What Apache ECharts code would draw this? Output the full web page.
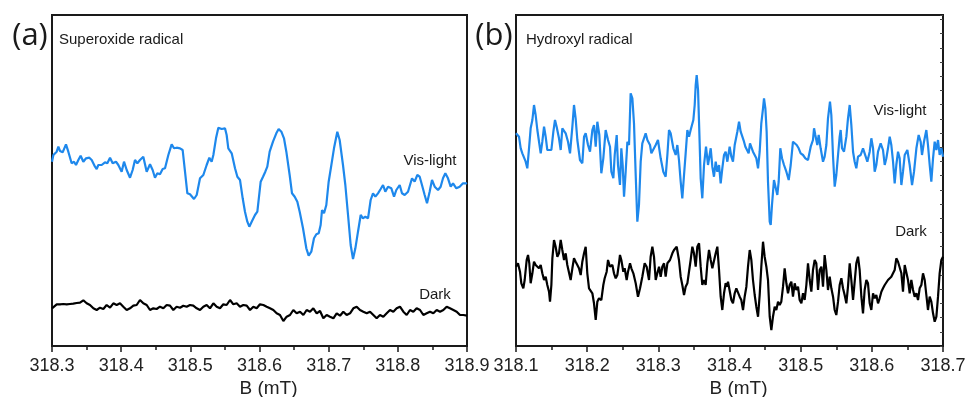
<!DOCTYPE html>
<html><head><meta charset="utf-8">
<script src="https://cdn.jsdelivr.net/npm/echarts@6/dist/echarts.min.js"></script>
<style>html,body{margin:0;padding:0;background:#fff}#c{width:969px;height:397px}</style>
</head><body><div id="c"></div>
<script>
// Tick labels
const aTicks = ['318.3','318.4','318.5','318.6','318.7','318.8','318.9'];
const bTicks = ['318.1','318.2','318.3','318.4','318.5','318.6','318.7'];

// Panel (a) Superoxide radical, Vis-light (B in mT, intensity a.u.)
const aVisX = [318.3000,318.3020,318.3068,318.3092,318.3116,318.3154,318.3202,318.3236,318.3284,318.3318,318.3347,318.3381,318.3414,318.3453,318.3492,318.3540,318.3574,318.3622,318.3646,318.3670,318.3718,318.3766,318.3800,318.3839,318.3877,318.3925,318.3959,318.4007,318.4041,318.4080,318.4128,318.4166,318.4200,318.4234,318.4272,318.4320,318.4369,318.4417,318.4455,318.4489,318.4523,318.4561,318.4600,318.4634,318.4682,318.4730,318.4764,318.4802,318.4851,318.4889,318.4923,318.4957,318.4995,318.5053,318.5092,318.5140,318.5188,318.5236,318.5275,318.5308,318.5333,318.5371,318.5405,318.5453,318.5501,318.5525,318.5549,318.5598,318.5646,318.5680,318.5718,318.5757,318.5790,318.5824,318.5853,318.5887,318.5935,318.5969,318.6017,318.6051,318.6084,318.6113,318.6147,318.6195,318.6243,318.6277,318.6316,318.6354,318.6388,318.6436,318.6470,318.6509,318.6547,318.6581,318.6629,318.6677,318.6711,318.6749,318.6788,318.6822,318.6856,318.6884,318.6904,318.6933,318.6966,318.7000,318.7039,318.7077,318.7125,318.7159,318.7207,318.7241,318.7280,318.7318,318.7352,318.7386,318.7424,318.7463,318.7496,318.7530,318.7569,318.7607,318.7641,318.7675,318.7713,318.7752,318.7786,318.7819,318.7858,318.7906,318.7945,318.7978,318.8027,318.8060,318.8099,318.8147,318.8205,318.8243,318.8282,318.8316,318.8349,318.8388,318.8422,318.8460,318.8494,318.8533,318.8581,318.8619,318.8653,318.8687,318.8725,318.8764,318.8798,318.8846,318.8894,318.8942,318.8990,318.9000];
const aVisY = [184.3,191,194.3,199.3,195,193.7,201.7,194.3,182.7,184.3,181,186,190.3,184.3,187.7,188.3,186,179.3,177,181,181,183.7,182.7,188.3,182.7,184.3,181,174.3,184.3,176,168.3,176,186,182.7,186,189.3,174.3,181.7,176,168.3,172.7,171.7,177,177.7,191,201.7,197.7,198.3,197.7,196,174.3,152.7,151.7,147,151,167.7,171,181,188.3,184.3,191,207.7,218.3,217,217.7,211,197.7,192.7,177.7,169.3,166,147.7,134.3,124.3,119.3,124.3,131,134.3,164.3,169.3,174.3,179.3,194.3,204.3,212.7,217,214.3,207.7,194.3,171,152.7,149.3,144.3,134.3,117.7,97.7,90.3,94.3,107.7,111.7,112.7,121,136,132.7,141,164.3,181,197.7,214.3,206,181,161,131,101,87,97.7,114.3,131,127.7,129.3,127.7,146,152.7,149.3,152.7,157,161,154.3,159.3,157.7,149.3,156,161,152.7,151,154.3,167.7,164.3,171,169.3,161,151,142.7,154.3,166,159.3,156,159.3,167.7,172.7,167.7,159.3,162.7,157.7,159.3,162.7,162.7,163];

// Panel (a) Dark
const aDarkX = [318.3000,318.3019,318.3068,318.3116,318.3164,318.3212,318.3260,318.3308,318.3357,318.3405,318.3453,318.3501,318.3549,318.3598,318.3646,318.3694,318.3742,318.3790,318.3839,318.3887,318.3935,318.3983,318.4031,318.4080,318.4128,318.4176,318.4224,318.4272,318.4320,318.4369,318.4417,318.4465,318.4513,318.4561,318.4610,318.4658,318.4706,318.4754,318.4802,318.4851,318.4899,318.4947,318.4995,318.5043,318.5092,318.5140,318.5188,318.5236,318.5284,318.5333,318.5381,318.5429,318.5477,318.5525,318.5574,318.5622,318.5670,318.5718,318.5766,318.5815,318.5863,318.5911,318.5959,318.6007,318.6056,318.6104,318.6152,318.6200,318.6248,318.6296,318.6345,318.6393,318.6441,318.6489,318.6537,318.6586,318.6634,318.6682,318.6730,318.6778,318.6827,318.6875,318.6923,318.6971,318.7019,318.7068,318.7116,318.7164,318.7212,318.7260,318.7309,318.7357,318.7405,318.7453,318.7501,318.7550,318.7598,318.7646,318.7694,318.7742,318.7790,318.7839,318.7887,318.7935,318.7983,318.8031,318.8080,318.8128,318.8176,318.8224,318.8272,318.8321,318.8369,318.8417,318.8465,318.8513,318.8562,318.8610,318.8658,318.8706,318.8754,318.8803,318.8851,318.8899,318.8947,318.9000];
const aDarkY = [37.7,39.3,41.7,41.7,42,41.7,42,42.3,43,43.3,45.7,42.7,41,37.7,36,38.3,37,41,38.3,42.7,41,42.7,39.3,36,37.7,40.3,41,46,42.7,41,36,37.7,37,39.3,37.7,41,40.3,36,39.3,38.3,40.3,39.3,41,40.3,37.7,36,39.3,41,37.7,42.7,39.3,37.7,41.7,41,46,41.7,42.7,39.3,41,40.3,36,39.3,37.7,41.7,41,39.3,37.7,36,32.7,31,25,29.3,31,36,32.7,34.3,31,36,34.3,37.7,32.7,35,27.7,31,29.3,27.7,32.7,30.3,34.3,31,32.7,37.7,39.3,36,34.3,32.7,34.3,31,27.7,31,29.3,32.7,36,34.3,37.7,39.3,34.3,31,36,34.3,37.7,36,31,32.7,34.3,32.7,36,34.3,36,39.3,37.7,36,34.3,31,31,30.3];

// Panel (b) Hydroxyl radical, Vis-light
const bVisX = [318.1000,318.1042,318.1066,318.1089,318.1112,318.1136,318.1159,318.1183,318.1206,318.1230,318.1253,318.1276,318.1300,318.1323,318.1347,318.1370,318.1394,318.1417,318.1440,318.1464,318.1497,318.1525,318.1548,318.1571,318.1604,318.1628,318.1651,318.1675,318.1698,318.1731,318.1759,318.1792,318.1815,318.1838,318.1862,318.1899,318.1932,318.1956,318.1979,318.2012,318.2040,318.2073,318.2096,318.2120,318.2143,318.2171,318.2199,318.2227,318.2260,318.2293,318.2321,318.2340,318.2368,318.2387,318.2415,318.2433,318.2461,318.2480,318.2499,318.2518,318.2541,318.2565,318.2588,318.2611,318.2635,318.2658,318.2682,318.2705,318.2728,318.2752,318.2775,318.2799,318.2822,318.2846,318.2883,318.2902,318.2930,318.2963,318.2995,318.3033,318.3070,318.3103,318.3127,318.3150,318.3173,318.3211,318.3244,318.3267,318.3290,318.3314,318.3337,318.3361,318.3384,318.3408,318.3431,318.3454,318.3492,318.3511,318.3525,318.3539,318.3558,318.3576,318.3595,318.3618,318.3642,318.3670,318.3698,318.3736,318.3759,318.3782,318.3806,318.3829,318.3853,318.3876,318.3899,318.3923,318.3946,318.3970,318.4002,318.4026,318.4049,318.4073,318.4110,318.4134,318.4157,318.4176,318.4204,318.4223,318.4251,318.4269,318.4288,318.4307,318.4330,318.4354,318.4377,318.4401,318.4424,318.4447,318.4471,318.4485,318.4504,318.4522,318.4541,318.4565,318.4579,318.4597,318.4625,318.4649,318.4672,318.4691,318.4714,318.4738,318.4766,318.4799,318.4832,318.4860,318.4892,318.4916,318.4944,318.4972,318.5000,318.5033,318.5066,318.5103,318.5141,318.5173,318.5188,318.5206,318.5234,318.5253,318.5281,318.5314,318.5337,318.5361,318.5384,318.5412,318.5431,318.5455,318.5478,318.5501,318.5525,318.5548,318.5562,318.5581,318.5609,318.5642,318.5665,318.5689,318.5712,318.5736,318.5759,318.5782,318.5806,318.5843,318.5876,318.5899,318.5937,318.5970,318.5993,318.6017,318.6040,318.6063,318.6087,318.6124,318.6157,318.6181,318.6204,318.6227,318.6251,318.6274,318.6298,318.6321,318.6344,318.6368,318.6391,318.6415,318.6438,318.6462,318.6499,318.6532,318.6565,318.6593,318.6626,318.6658,318.6686,318.6705,318.6733,318.6766,318.6789,318.6813,318.6836,318.6860,318.6883,318.6907,318.6930,318.6953,318.6977,318.7000];
const bVisY = [212.7,209.3,197.7,192.7,194.3,184.3,177.7,197.7,217.7,226,241,231,216,214.3,192.7,204.3,219.3,209.3,196,197.7,196,214.3,226,219.3,207.7,196,217.7,216,212.7,204.3,192.7,219.3,241,227.7,206,186,182.7,209.3,212.7,201,194.3,216,221,199.3,224.3,211,172.7,187.7,216,206,199.3,174.3,167.7,191,211,181,161,197.7,181,149.3,174.3,204.3,201,252.7,247.7,222.7,171,124.3,141,184.3,202.7,201,212.7,206,201,192.7,194.3,201,206,187.7,174.3,169.3,191,216,212.7,197.7,191,201,186,164.3,147.7,171,192.7,216,209.3,216,226,241,261,271,256,214.3,167.7,147.7,181,199.3,181,197.7,179.3,169.3,184.3,174.3,181,162.7,177.7,191,194.3,184.3,199.3,189.3,184.3,201,214.3,224.3,214.3,216,204.3,199.3,201,192.7,202.7,204.3,194.3,196,187.7,177.7,194.3,222.7,237.7,247.7,237.7,214.3,164.3,124.3,121,141,166,167.7,151,164.3,197.7,187.7,181,174.3,166,181,204.3,206,201,197.7,192.7,191,187.7,186,199.3,206,217.7,211,201,211,197.7,184.3,189.3,201,227.7,244.3,231,189.3,159.3,171,191,209.3,216,197.7,194.3,209.3,227.7,241,221,194.3,184.3,177.7,189.3,191,197.7,199.3,184.3,194.3,207.7,197.7,174.3,181,194.3,202.7,196,181,187.7,197.7,209.3,201,184.3,162.7,181,194.3,187.7,161,174.3,191,196,181,161,174.3,197.7,211,204.3,191,204.3,216,201,181,164.3,187.7,204.3,196,206,191,197.7,189.3];

// Panel (b) Dark
const bDarkX = [318.1000,318.1028,318.1056,318.1075,318.1103,318.1122,318.1150,318.1169,318.1187,318.1206,318.1230,318.1253,318.1276,318.1300,318.1323,318.1347,318.1370,318.1394,318.1417,318.1440,318.1464,318.1478,318.1497,318.1511,318.1534,318.1557,318.1581,318.1604,318.1628,318.1651,318.1675,318.1698,318.1721,318.1745,318.1768,318.1792,318.1815,318.1838,318.1862,318.1885,318.1909,318.1932,318.1956,318.1979,318.2002,318.2026,318.2049,318.2073,318.2096,318.2120,318.2143,318.2166,318.2199,318.2227,318.2246,318.2274,318.2293,318.2321,318.2354,318.2377,318.2401,318.2424,318.2447,318.2461,318.2480,318.2508,318.2527,318.2555,318.2574,318.2602,318.2621,318.2649,318.2682,318.2714,318.2743,318.2775,318.2808,318.2836,318.2869,318.2892,318.2916,318.2939,318.2963,318.2986,318.3010,318.3033,318.3056,318.3080,318.3103,318.3127,318.3164,318.3197,318.3220,318.3258,318.3290,318.3314,318.3337,318.3361,318.3384,318.3408,318.3431,318.3454,318.3478,318.3501,318.3525,318.3548,318.3572,318.3595,318.3618,318.3642,318.3665,318.3689,318.3712,318.3736,318.3759,318.3782,318.3806,318.3829,318.3853,318.3876,318.3899,318.3923,318.3946,318.3970,318.3979,318.4002,318.4026,318.4049,318.4073,318.4096,318.4120,318.4143,318.4166,318.4190,318.4213,318.4237,318.4260,318.4284,318.4307,318.4330,318.4354,318.4377,318.4401,318.4424,318.4447,318.4471,318.4494,318.4518,318.4541,318.4565,318.4588,318.4611,318.4635,318.4658,318.4682,318.4705,318.4728,318.4752,318.4775,318.4799,318.4822,318.4846,318.4869,318.4892,318.4916,318.4939,318.4963,318.4986,318.5010,318.5033,318.5056,318.5080,318.5103,318.5127,318.5150,318.5173,318.5197,318.5220,318.5244,318.5267,318.5291,318.5314,318.5337,318.5361,318.5384,318.5408,318.5431,318.5455,318.5478,318.5501,318.5525,318.5548,318.5572,318.5595,318.5618,318.5642,318.5665,318.5689,318.5712,318.5736,318.5759,318.5782,318.5806,318.5829,318.5853,318.5876,318.5899,318.5923,318.5946,318.5970,318.5993,318.6017,318.6040,318.6063,318.6087,318.6110,318.6134,318.6157,318.6181,318.6204,318.6227,318.6251,318.6274,318.6298,318.6321,318.6344,318.6368,318.6391,318.6415,318.6438,318.6462,318.6485,318.6508,318.6532,318.6555,318.6579,318.6602,318.6626,318.6649,318.6672,318.6696,318.6719,318.6743,318.6766,318.6789,318.6813,318.6836,318.6860,318.6883,318.6907,318.6930,318.6953,318.6977,318.7000];
const bDarkY = [79.3,82.7,74.3,62.7,57.7,66,86,91,82.7,62.7,72.7,84.3,81,82.7,77.7,81,72.7,66,69.3,61,54.3,44.3,61,87.7,106,99.3,89.3,92.7,106,96,86,92.7,81,82.7,66,77.7,87.7,84.3,81,77.7,71,84.3,92.7,99.3,72.7,57.7,59.3,52.7,42.7,26,44.3,47.7,46,61,67.7,74.3,86,79.3,81,72.7,67.7,71,82.7,91,86,74.3,77.7,66,74.3,82.7,77.7,72.7,62.7,49.3,57.7,69.3,82.7,79.3,66,89.3,99.3,89.3,66,72.7,79.3,69.3,79.3,82.7,69.3,82.7,86,92.7,96,99.3,86,69.3,61,51,59.3,62.7,62.7,86,99.3,92.7,79.3,99.3,102.7,79.3,61,66,61,82.7,96,86,77.7,76,92.7,99.3,76,49.3,36,52.7,62.7,59.3,64.3,62.7,46,42.7,52.7,57.7,56,49.3,46,36,49.3,59.3,79.3,96,86,66,51,39.3,29.3,51,79.3,104.3,89.3,79.3,66,29.3,16,29.3,39.3,36,44.3,41,44.3,59.3,77.7,62.7,52.7,61,64.3,49.3,62.7,56,59.3,46,42.7,52.7,46,61,82.7,66,54.3,76,86,82.7,56,76,79.3,59.3,91,76,56,69.3,57.7,49.3,36,31,44.3,61,67.7,57.7,51,42.7,59.3,82.7,66,46,64.3,82.7,89.3,76,49.3,32.7,56,66,62.7,42.7,36,52.7,47.7,51,42.7,47.7,54.3,57.7,61,62.7,66,67.7,69.3,72.7,76,87.7,84.3,86,72.7,54.3,81,79.3,66,52.7,66,56,49.3,52.7,46,57.7,61,72.7,66,51,36,49.3,44.3,32.7,24.3,29.3,49.3,72.7,86,89.3];

function pairs(xs, ys) { return xs.map((x, i) => [x, ys[i]]); }

const FONT = '"Liberation Sans", Arial, sans-serif';
const INK = '#1a1a1a';
const BLUE = '#1e88ec';

function makeX(gridIndex, labels) {
  const min = parseFloat(labels[0]);
  const max = parseFloat(labels[labels.length - 1]);
  return {
    type: 'value', gridIndex, min, max, interval: 0.1,
    axisLine: { show: true, lineStyle: { color: INK, width: 2 } },
    axisTick: { show: true, length: 6, lineStyle: { color: INK, width: 1.5 } },
    minorTick: { show: true, splitNumber: 2, length: 4, lineStyle: { color: INK, width: 1.5 } },
    splitLine: { show: false },
    axisLabel: {
      show: true, margin: 11, fontSize: 18, color: '#222', fontFamily: FONT,
      showMinLabel: true, showMaxLabel: true, hideOverlap: false,
      formatter: v => { const s = v.toFixed(1); return labels.includes(s) ? s : ''; }
    },
    name: 'B (mT)', nameLocation: 'middle', nameGap: 33, nameMoveOverlap: false,
    nameTextStyle: { fontSize: 19, color: '#222', fontFamily: FONT, padding: [0, 0, 0, 18] }
  };
}

const chart = echarts.init(document.getElementById('c'));
chart.setOption({
  animation: false,
  backgroundColor: '#fff',
  grid: [
    { left: 52, top: 15, width: 415, height: 331, show: true, borderColor: INK, borderWidth: 2, backgroundColor: 'transparent', containLabel: false, outerBoundsMode: 'none' },
    { left: 516, top: 15, width: 427, height: 331, show: true, borderColor: INK, borderWidth: 2, backgroundColor: 'transparent', containLabel: false, outerBoundsMode: 'none' }
  ],
  xAxis: [makeX(0, aTicks), makeX(1, bTicks)],
  yAxis: [
    { type: 'value', gridIndex: 0, min: 0, max: 331, show: false },
    { type: 'value', gridIndex: 1, min: 0, max: 331, show: false },
    { type: 'value', gridIndex: 1, min: 0, max: 331, interval: 14.2, position: 'right',
      axisLine: { show: false }, axisLabel: { show: false }, splitLine: { show: false },
      axisTick: { show: true, inside: true, length: 3, lineStyle: { color: '#444', width: 1 } } }
  ],
  series: [
    { type: 'line', xAxisIndex: 0, yAxisIndex: 0, data: pairs(aVisX, aVisY), showSymbol: false, lineStyle: { color: BLUE, width: 2.2 } },
    { type: 'line', xAxisIndex: 0, yAxisIndex: 0, data: pairs(aDarkX, aDarkY), showSymbol: false, lineStyle: { color: '#000', width: 2.2 } },
    { type: 'line', xAxisIndex: 1, yAxisIndex: 1, data: pairs(bVisX, bVisY), showSymbol: false, lineStyle: { color: BLUE, width: 2.2 } },
    { type: 'line', xAxisIndex: 1, yAxisIndex: 1, data: pairs(bDarkX, bDarkY), showSymbol: false, lineStyle: { color: '#000', width: 2.2 } }
  ],
  graphic: [
    { type: 'text', x: 30, y: 36, style: { text: '(a)', font: '31px "Open Sans", sans-serif', fill: INK, align: 'center', verticalAlign: 'middle' } },
    { type: 'text', x: 494, y: 36, style: { text: '(b)', font: '31px "Open Sans", sans-serif', fill: INK, align: 'center', verticalAlign: 'middle' } },
    { type: 'text', x: 59, y: 40, style: { text: 'Superoxide radical', font: '15px ' + FONT, fill: INK, align: 'left', verticalAlign: 'middle' } },
    { type: 'text', x: 526, y: 40, style: { text: 'Hydroxyl radical', font: '15px ' + FONT, fill: INK, align: 'left', verticalAlign: 'middle' } },
    { type: 'text', x: 430, y: 161, style: { text: 'Vis-light', font: '15px ' + FONT, fill: INK, align: 'center', verticalAlign: 'middle' } },
    { type: 'text', x: 435, y: 295, style: { text: 'Dark', font: '15px ' + FONT, fill: INK, align: 'center', verticalAlign: 'middle' } },
    { type: 'text', x: 900, y: 111, style: { text: 'Vis-light', font: '15px ' + FONT, fill: INK, align: 'center', verticalAlign: 'middle' } },
    { type: 'text', x: 911, y: 232, style: { text: 'Dark', font: '15px ' + FONT, fill: INK, align: 'center', verticalAlign: 'middle' } }
  ]
});
</script>
</body></html>
